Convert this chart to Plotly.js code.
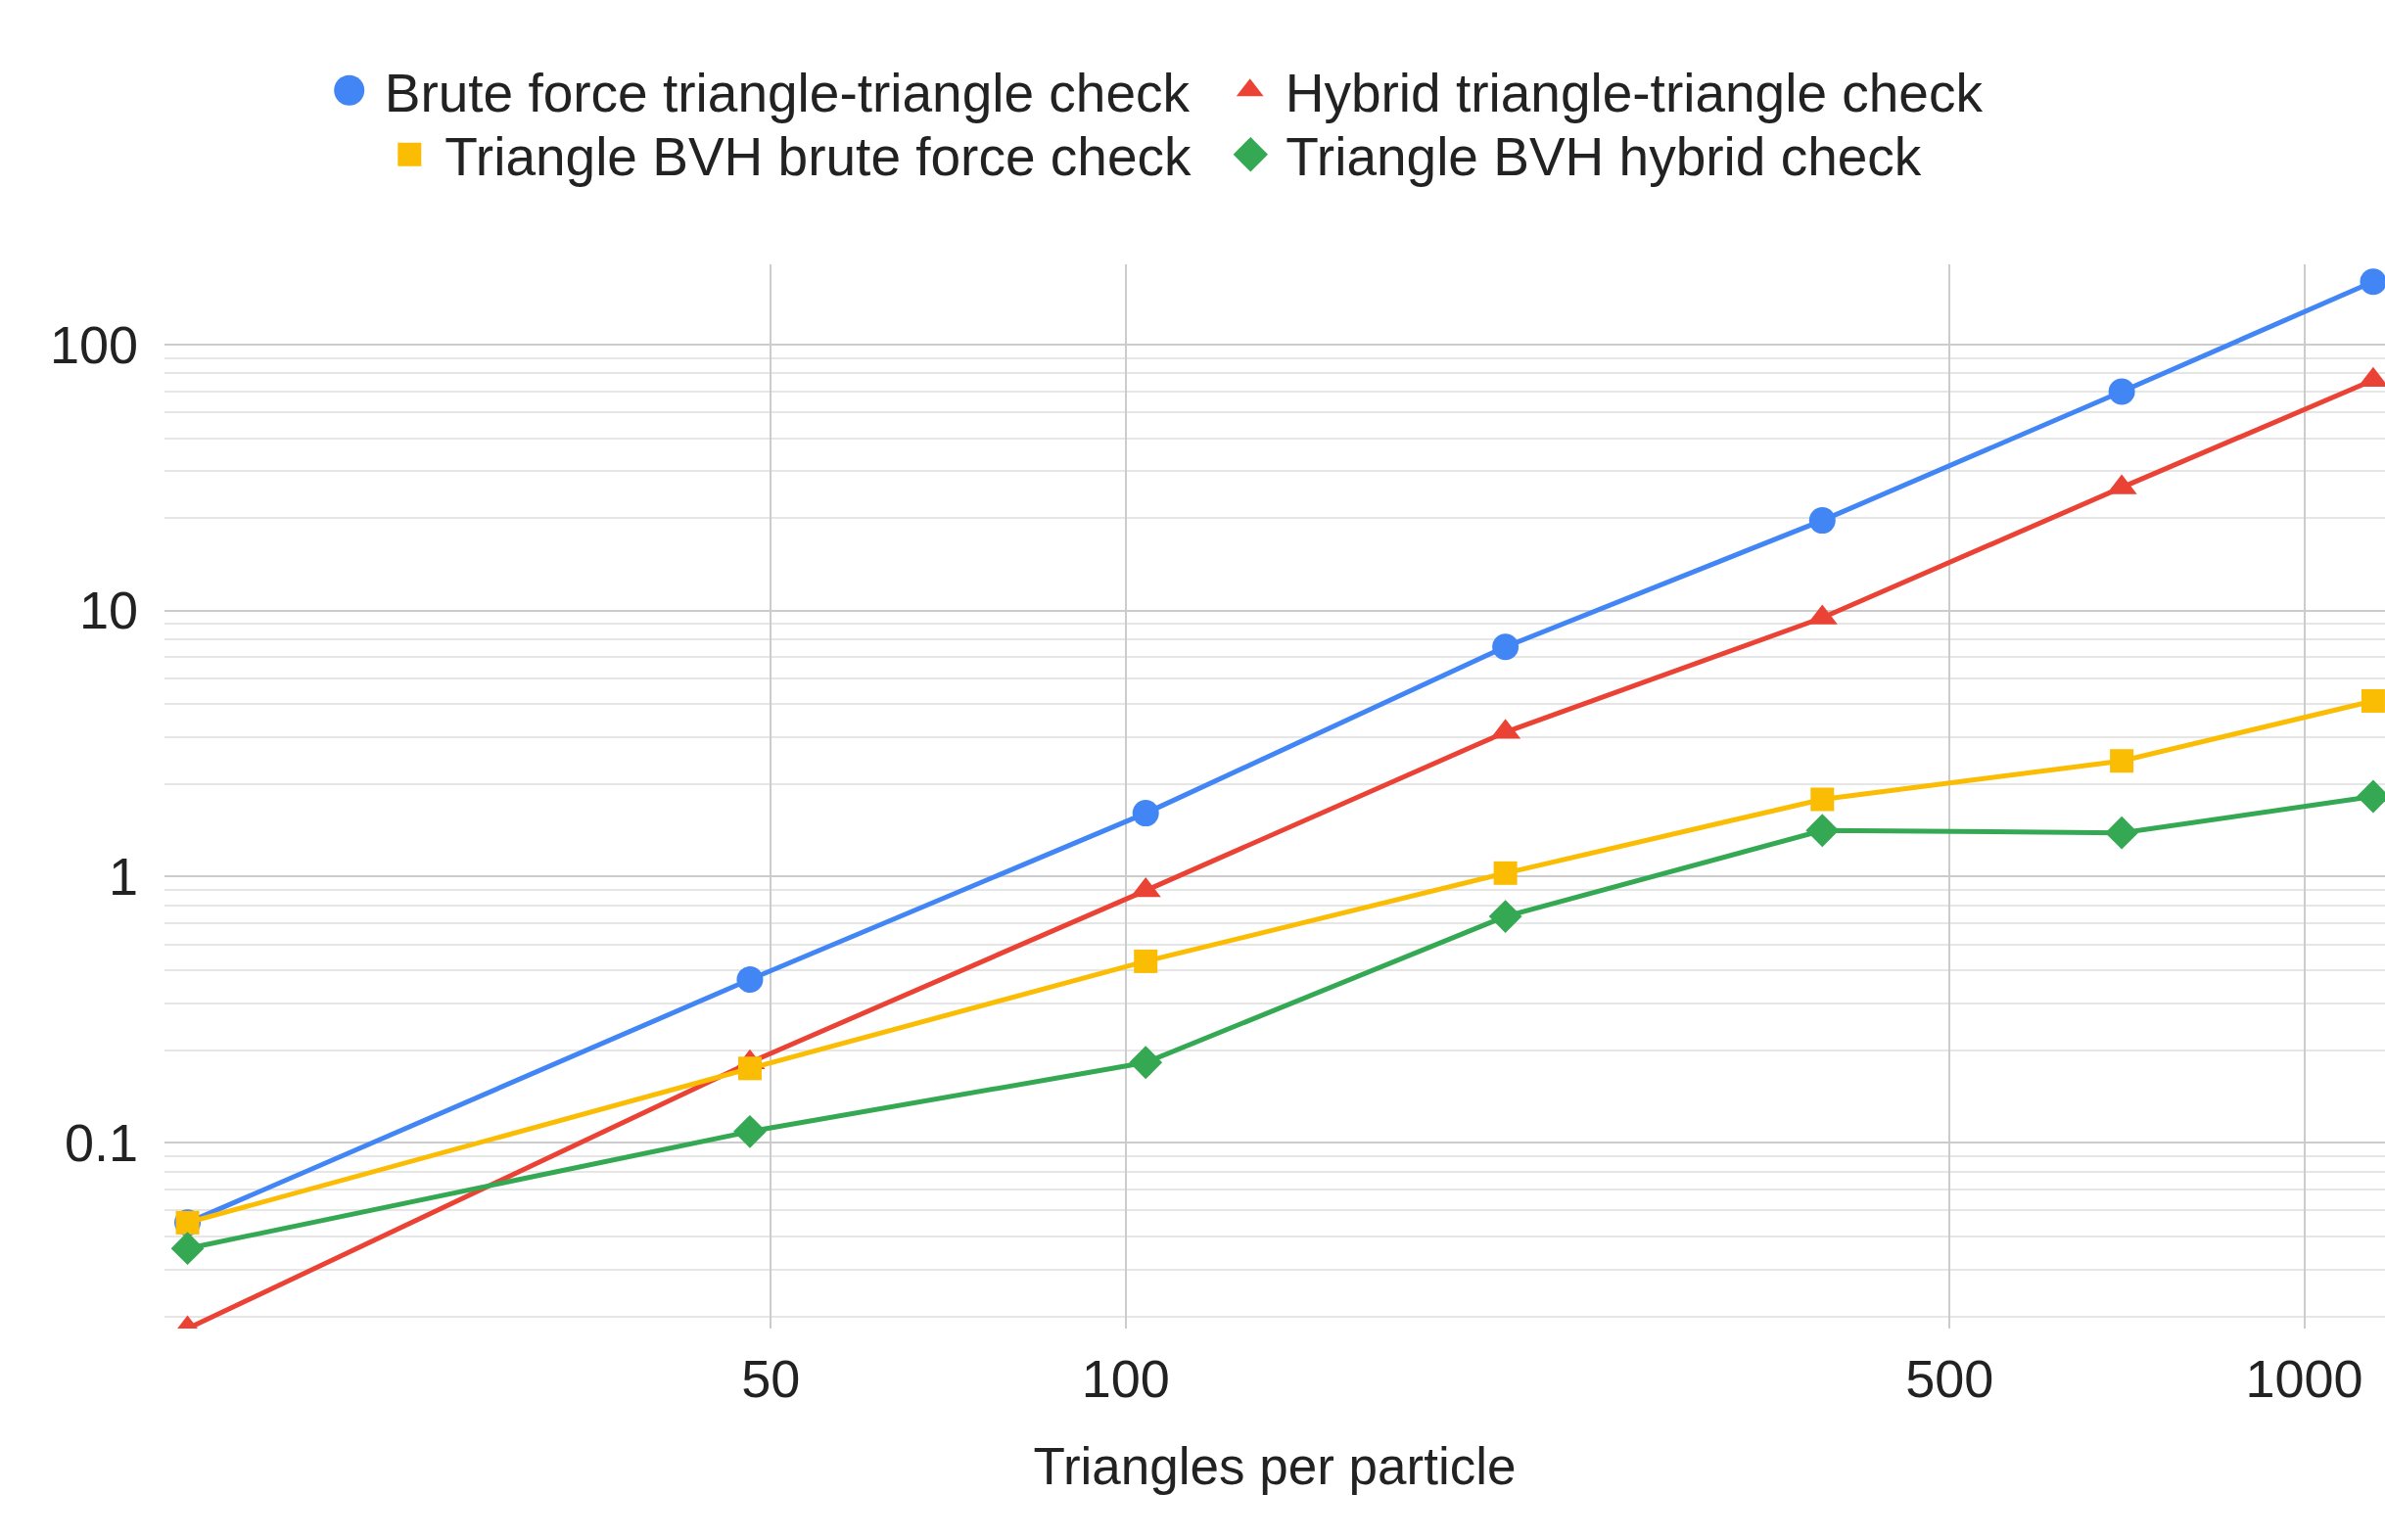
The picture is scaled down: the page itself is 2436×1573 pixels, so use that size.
<!DOCTYPE html>
<html>
<head>
<meta charset="utf-8">
<script src="https://cdn.plot.ly/plotly-3.0.1.min.js"></script>
<style>
  html, body { margin: 0; padding: 0; background: #ffffff; overflow: hidden; }
  #chart { width: 2436px; height: 1573px; }
</style>
</head>
<body>
<div id="chart"></div>
<script>
// ---- data ----
const trianglesPerParticle = [16, 48, 104, 210, 390, 700, 1144];
const bruteForceTriTri   = [0.05, 0.41, 1.73, 7.3, 21.8, 66.5, 172];
const hybridTriTri       = [0.02, 0.2, 0.886, 3.49, 9.39, 29.0, 73.4];
const bvhBruteForce      = [0.05, 0.19, 0.48, 1.03, 1.95, 2.72, 4.57];
const bvhHybrid          = [0.04, 0.11, 0.2, 0.708, 1.49, 1.46, 2.0];

const seriesNames = [
  'Brute force triangle-triangle check',
  'Hybrid triangle-triangle check',
  'Triangle BVH brute force check',
  'Triangle BVH hybrid check'
];

const xTickVals = [50, 100, 500, 1000];
const xTickText = ['50', '100', '500', '1000'];
const yTickVals = [0.1, 1, 10, 100];
const yTickText = ['0.1', '1', '10', '100'];
const yDecades  = [0.1, 1, 10, 100];

// ---- styling ----
const colors  = ['#4285F4', '#EA4335', '#FBBC04', '#34A853'];
const symbols = ['circle', 'triangle-up', 'square', 'diamond'];
const sizes   = [27, 27, 24, 26];
const legendScale = [1.94, 1.5, 1.5, 1.7];
const legendIds = ['legend', 'legend', 'legend2', 'legend2'];
const legendWidths = [843, null, 782, null];
const seriesValues = [bruteForceTriTri, hybridTriTri, bvhBruteForce, bvhHybrid];

// minor horizontal gridlines (Sheets style: linear ninths of each decade)
const minorVals = [];
yDecades.forEach(function (d) { for (let m = 2; m <= 8; m++) minorVals.push(d * m / 9); });

const FONT = 'Arial, "Liberation Sans", sans-serif';
const TXT = '#222222';

const traces = [];
seriesValues.forEach(function (vals, i) {
  traces.push({
    type: 'scatter', mode: 'lines',
    x: trianglesPerParticle, y: vals,
    line: { color: colors[i], width: 5 },
    showlegend: false, hoverinfo: 'skip'
  });
  const t = {
    type: 'scatter', mode: 'markers',
    name: seriesNames[i],
    x: trianglesPerParticle, y: vals,
    marker: { color: colors[i], symbol: symbols[i], size: sizes[i], line: { width: 0 } },
    legend: legendIds[i],
    showlegend: true
  };
  if (legendWidths[i]) t.legendwidth = legendWidths[i];
  traces.push(t);
});

const legendCommon = {
  orientation: 'h', xref: 'container', yref: 'container',
  xanchor: 'left', yanchor: 'middle',
  font: { family: FONT, size: 55, color: TXT },
  itemwidth: 62, bgcolor: 'rgba(0,0,0,0)', borderwidth: 0,
  traceorder: 'normal', itemclick: false, itemdoubleclick: false
};

const layout = {
  width: 2436, height: 1573,
  margin: { l: 168, r: 0, t: 270, b: 216, pad: 0 },
  paper_bgcolor: '#ffffff', plot_bgcolor: '#ffffff',
  font: { family: FONT, color: TXT, size: 54 },
  showlegend: true,
  xaxis: {
    type: 'log',
    range: [1.18457, 3.06845],
    tickmode: 'array', tickvals: xTickVals, ticktext: xTickText,
    showgrid: true, gridcolor: '#cccccc', gridwidth: 2,
    ticks: '', showline: false, zeroline: false,
    tickfont: { family: FONT, size: 54, color: TXT },
    ticklabelstandoff: 15,
    title: { text: 'Triangles per particle', font: { family: FONT, size: 53, color: TXT }, standoff: 41 },
    automargin: false, fixedrange: true
  },
  yaxis: {
    type: 'log',
    range: [Math.log10(0.02), Math.log10(200)],
    tickmode: 'array', tickvals: yTickVals, ticktext: yTickText,
    showgrid: true, gridcolor: '#cccccc', gridwidth: 2,
    ticks: '', showline: false, zeroline: false,
    tickfont: { family: FONT, size: 54, color: TXT },
    ticklabelstandoff: 26,
    minor: { tickmode: 'array', tickvals: minorVals, showgrid: true, gridcolor: '#e6e6e6', gridwidth: 2, ticks: '' },
    automargin: false, fixedrange: true
  },
  legend:  Object.assign({}, legendCommon, { x: (356.7 - 36) / 2436, y: 1 - 92.5 / 1573 }),
  legend2: Object.assign({}, legendCommon, { x: (418.3 - 36) / 2436, y: 1 - 158 / 1573 })
};

// Plotly caps legend symbols at 16px; Sheets draws them larger, so enlarge them in place.
function enlargeLegendSymbols() {
  const rgb = colors.map(function (c) {
    const n = parseInt(c.slice(1), 16);
    return 'rgb(' + (n >> 16) + ', ' + ((n >> 8) & 255) + ', ' + (n & 255) + ')';
  });
  document.querySelectorAll('g.legendpoints path.scatterpts').forEach(function (p) {
    const idx = rgb.indexOf(p.style.fill);
    if (idx < 0) return;
    const tr = p.getAttribute('transform') || '';
    if (tr.indexOf('scale') < 0) p.setAttribute('transform', tr + ' scale(' + legendScale[idx] + ')');
  });
}

Plotly.newPlot('chart', traces, layout, { staticPlot: true, displayModeBar: false })
  .then(enlargeLegendSymbols);
</script>
</body>
</html>
